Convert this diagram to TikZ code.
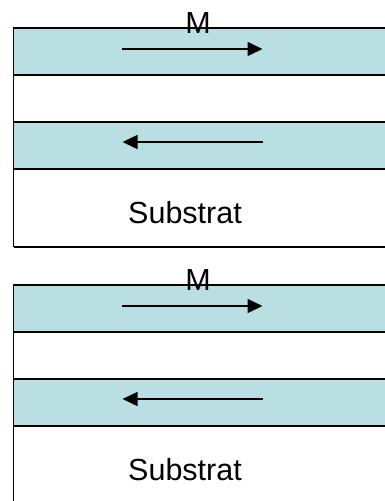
\documentclass[tikz,border=0pt]{standalone}
\usepackage{fontspec}
\setmainfont{Liberation Sans}
\usetikzlibrary{arrows.meta}
\definecolor{layerblue}{HTML}{B9DFE3}
\begin{document}
\begin{tikzpicture}[x=1pt,y=-1pt,
  border/.style={draw=black,line width=1.5pt},
  filmfill/.style={fill=layerblue},
  magnet/.style={line width=1.5pt,-{Triangle[length=15pt,width=14pt]}},
  label/.style={font=\fontsize{30.5}{30.5}\selectfont,anchor=base,inner sep=0pt},
  stack/.pic={
    % two magnetic films separated by a spacer, on a substrate
    \fill[filmfill] (0,0) rectangle (420,47);
    \fill[filmfill] (0,94) rectangle (420,141);
    \coordinate (foot) at (0,219);
    \draw[border] (420,0) -- (0,0) -- (foot);
    \draw[border] (0,47) -- (420,47);
    \draw[border] (0,94) -- (420,94);
    \draw[border] (0,141) -- (420,141);
    \draw[border] (foot) -- (420,219);
    \coordinate (a1) at (108.5,21);
    \coordinate (b1) at (249,21);
    \coordinate (a2) at (249.5,114);
    \coordinate (b2) at (109,114);
    \draw[magnet] (a1) -- (b1);
    \draw[magnet] (a2) -- (b2);
    \node[label] (m) at (184.5,5) {M};
    \node[label] (sub) at (171.5,195.5) {Substrat};
  }]
\useasboundingbox (0,0) rectangle (385,501);
\clip (0,0) rectangle (385,501);
\fill[white] (0,0) rectangle (385,501);
\pic (top) at (13.5,28) {stack};
\pic (bottom) at (13.5,285) {stack};
% the lower substrate runs past the lower edge
\draw[border] (bottomfoot) -- ++(0,40);
\end{tikzpicture}
\end{document}
